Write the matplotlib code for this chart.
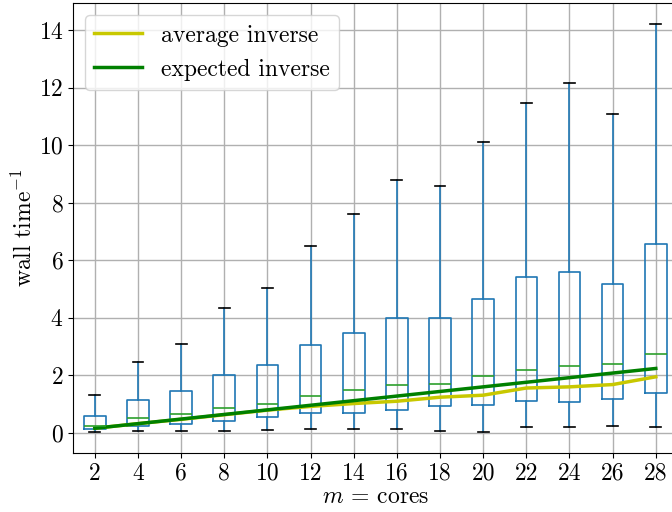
import matplotlib
matplotlib.use("Agg")
import matplotlib.pyplot as plt

plt.rcParams['font.family'] = 'serif'
plt.rcParams['font.serif'] = ['cmr10']
plt.rcParams['mathtext.fontset'] = 'cm'
plt.rcParams['axes.formatter.use_mathtext'] = True
plt.rcParams['axes.unicode_minus'] = False
plt.rcParams['font.size'] = 17

cores = [2, 4, 6, 8, 10, 12, 14, 16, 18, 20, 22, 24, 26, 28]
whisker_low = [0.02, 0.06, 0.06, 0.08, 0.10, 0.13, 0.13, 0.14, 0.06, 0.03, 0.21, 0.21, 0.24, 0.19]
q1 = [0.12, 0.23, 0.32, 0.42, 0.54, 0.70, 0.70, 0.78, 0.92, 0.98, 1.12, 1.09, 1.17, 1.38]
median = [0.25, 0.50, 0.65, 0.87, 1.02, 1.27, 1.49, 1.66, 1.71, 1.99, 2.18, 2.32, 2.39, 2.76]
q3 = [0.60, 1.14, 1.45, 2.00, 2.36, 3.04, 3.46, 4.00, 4.01, 4.67, 5.41, 5.59, 5.17, 6.58]
whisker_high = [1.30, 2.48, 3.09, 4.36, 5.05, 6.50, 7.62, 8.81, 8.60, 10.13, 11.46, 12.18, 11.08, 14.23]
average_inverse = [0.16, 0.32, 0.47, 0.63, 0.79, 0.92, 1.02, 1.10, 1.24, 1.31, 1.56, 1.60, 1.68, 1.95]
expected_inverse = [0.16, 0.32, 0.48, 0.64, 0.80, 0.96, 1.12, 1.28, 1.44, 1.60, 1.76, 1.92, 2.08, 2.24]

fig = plt.figure(figsize=(6.72, 5.12), dpi=100)
ax = fig.add_axes([0.109, 0.1158, 0.899, 0.8777])

stats = []
for i, c in enumerate(cores):
    stats.append(dict(label=str(c), whislo=whisker_low[i], q1=q1[i], med=median[i],
                      q3=q3[i], whishi=whisker_high[i], fliers=[]))

positions = list(range(1, len(cores) + 1))
ax.bxp(stats, positions=positions, widths=0.5, showfliers=False,
       boxprops=dict(color='#1f77b4', linewidth=1.2),
       whiskerprops=dict(color='#1f77b4', linewidth=1.2),
       capprops=dict(color='black', linewidth=1.2),
       medianprops=dict(color='#2ca02c', linewidth=1.2))

ax.plot(positions, average_inverse, color='#c8c800', linewidth=2.5, label='average inverse')
ax.plot(positions, expected_inverse, color='green', linewidth=2.5, label='expected inverse')

ax.set_xticks(positions)
ax.set_xticklabels([str(c) for c in cores])
ax.set_xlim(0.5, 14.5)
ax.grid(True, color='#b0b0b0', linewidth=1.0)
ax.set_axisbelow(True)
ax.set_xlabel('$m$ = cores', labelpad=1)
ax.set_ylabel('wall time$^{-1}$', labelpad=1)
ax.legend(loc='upper left')

fig.savefig('out.png', dpi=100)
